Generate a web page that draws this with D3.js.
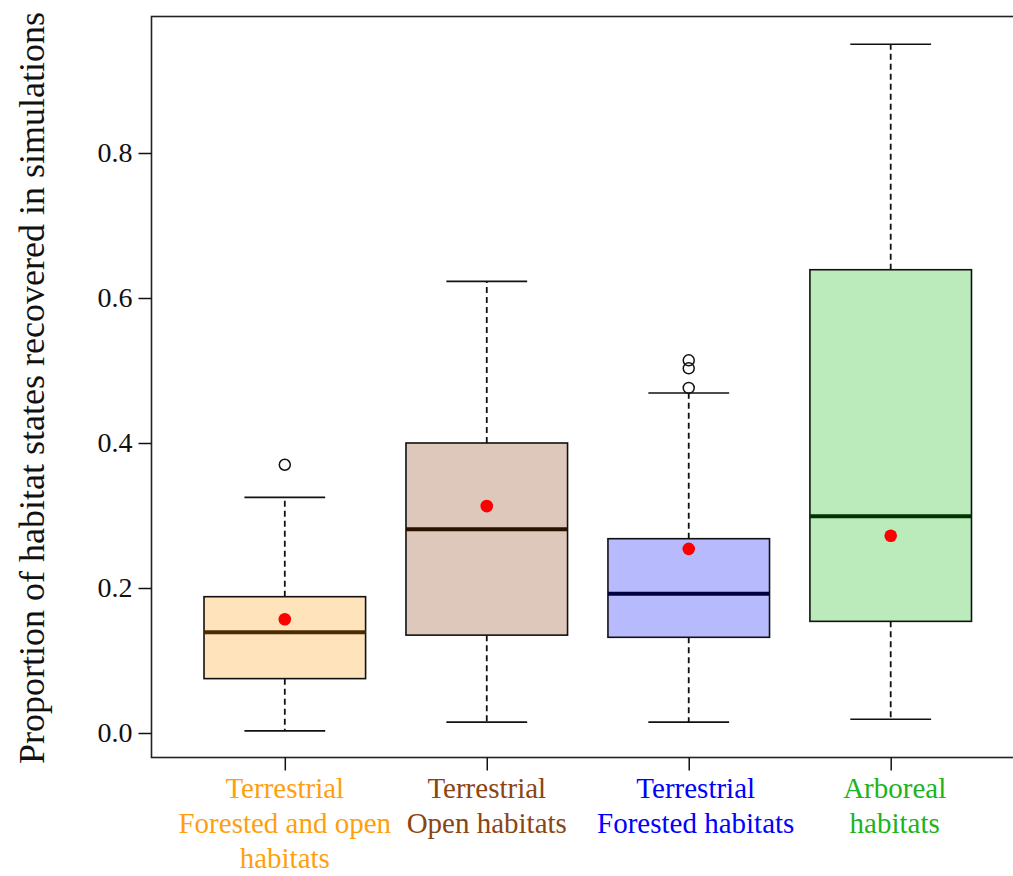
<!DOCTYPE html>
<html>
<head>
<meta charset="utf-8">
<script src="https://cdn.jsdelivr.net/npm/d3@7"></script>
<style>
  html, body { margin: 0; padding: 0; background: #fff; }
  svg { display: block; }
  text { font-family: "Liberation Serif", "Times New Roman", serif; }
</style>
</head>
<body>
<svg id="chart" width="1013" height="876" font-family="Liberation Serif"></svg>
<script>
// Group names (each entry is the lines of the axis label)
const categories = [
  ["Terrestrial", "Forested and open", "habitats"],
  ["Terrestrial", "Open habitats"],
  ["Terrestrial", "Forested habitats"],
  ["Arboreal", "habitats"]
];
// Five-number summaries per group
const whiskerLow  = [0.003, 0.015, 0.015, 0.019];
const q1          = [0.075, 0.135, 0.132, 0.154];
const medians     = [0.139, 0.281, 0.192, 0.299];
const q3          = [0.188, 0.400, 0.268, 0.639];
const whiskerHigh = [0.325, 0.623, 0.469, 0.950];
// Group means (red dots)
const means       = [0.157, 0.313, 0.254, 0.272];
// Outlying values
const outliers    = [[0.370], [], [0.476, 0.503, 0.514], []];
// Y axis ticks
const yTicks      = [0.0, 0.2, 0.4, 0.6, 0.8];

const fills      = ["#FEE3BB", "#DEC8BB", "#B8BAFE", "#BBEBBB"];
const medColors  = ["#4A2C00", "#2A1200", "#00003F", "#003300"];
const textColors = ["#FF9F0F", "#8B4513", "#0000FF", "#1DB31D"];
const labelShift = [0, 0, 7, 4];

const svg = d3.select("#chart");

const plotLeft = 151.5, plotTop = 16.5, plotBottom = 757.5, plotRight = 1024;
const x = d3.scaleLinear().domain([0.34, 4.66]).range([plotLeft, plotRight]);
const y = d3.scaleLinear().domain([0, 0.8]).range([733, 153]);

const boxW = (x(1.4) - x(0.6));
const capW = boxW / 2;

// Plot frame
svg.append("rect")
  .attr("x", plotLeft).attr("y", plotTop)
  .attr("width", plotRight - plotLeft).attr("height", plotBottom - plotTop)
  .attr("fill", "none").attr("stroke", "#222").attr("stroke-width", 1.6);

// Y axis
const yAxis = d3.axisLeft(y).tickValues(yTicks).tickFormat(d3.format(".1f"))
  .tickSize(13).tickPadding(6);
const gy = svg.append("g").attr("transform", `translate(${plotLeft},0)`).call(yAxis)
  .attr("font-family", "Liberation Serif");
gy.select(".domain").remove();
gy.selectAll(".tick line").attr("stroke", "#111").attr("stroke-width", 1.5);
gy.selectAll(".tick text").attr("font-size", 28).attr("fill", "#111");

// X axis ticks
const idx = d3.range(categories.length);
const gx = svg.append("g").attr("transform", `translate(0,${plotBottom})`)
  .call(d3.axisBottom(x).tickValues(idx.map(i => i + 1)).tickSize(13).tickFormat(""));
gx.select(".domain").remove();
gx.selectAll(".tick line").attr("stroke", "#111").attr("stroke-width", 1.5);

// Category labels, one colour per group
idx.forEach(i => {
  const lx = x(i + 1) + labelShift[i];
  const t = svg.append("text")
    .attr("x", lx).attr("y", 798)
    .attr("text-anchor", "middle")
    .attr("font-size", 29)
    .attr("fill", textColors[i]);
  categories[i].forEach((line, k) => {
    t.append("tspan").attr("x", lx).attr("dy", k === 0 ? 0 : 35).text(line);
  });
});

// Y axis title
svg.append("text")
  .attr("transform", `translate(44,388) rotate(-90)`)
  .attr("text-anchor", "middle")
  .attr("font-size", 36)
  .attr("fill", "#111")
  .text("Proportion of habitat states recovered in simulations");

// Boxes
const g = svg.append("g");
idx.forEach(i => {
  const cx = x(i + 1);
  // dashed whiskers
  g.append("line").attr("x1", cx).attr("x2", cx)
    .attr("y1", y(q3[i])).attr("y2", y(whiskerHigh[i]))
    .attr("stroke", "#111").attr("stroke-width", 1.8).attr("stroke-dasharray", "6,4");
  g.append("line").attr("x1", cx).attr("x2", cx)
    .attr("y1", y(q1[i])).attr("y2", y(whiskerLow[i]))
    .attr("stroke", "#111").attr("stroke-width", 1.8).attr("stroke-dasharray", "6,4");
  // caps
  [whiskerHigh[i], whiskerLow[i]].forEach(v => {
    g.append("line").attr("x1", cx - capW / 2).attr("x2", cx + capW / 2)
      .attr("y1", y(v)).attr("y2", y(v))
      .attr("stroke", "#111").attr("stroke-width", 1.6);
  });
  // box
  g.append("rect")
    .attr("x", cx - boxW / 2).attr("y", y(q3[i]))
    .attr("width", boxW).attr("height", y(q1[i]) - y(q3[i]))
    .attr("fill", fills[i]).attr("stroke", "#111").attr("stroke-width", 1.6);
  // median
  g.append("line").attr("x1", cx - boxW / 2).attr("x2", cx + boxW / 2)
    .attr("y1", y(medians[i])).attr("y2", y(medians[i]))
    .attr("stroke", medColors[i]).attr("stroke-width", 4);
  // outliers
  outliers[i].forEach(v => {
    g.append("circle").attr("cx", cx).attr("cy", y(v)).attr("r", 5.5)
      .attr("fill", "none").attr("stroke", "#111").attr("stroke-width", 1.5);
  });
  // mean
  g.append("circle").attr("cx", cx).attr("cy", y(means[i])).attr("r", 6.3)
    .attr("fill", "#FF0000");
});
</script>
</body>
</html>
